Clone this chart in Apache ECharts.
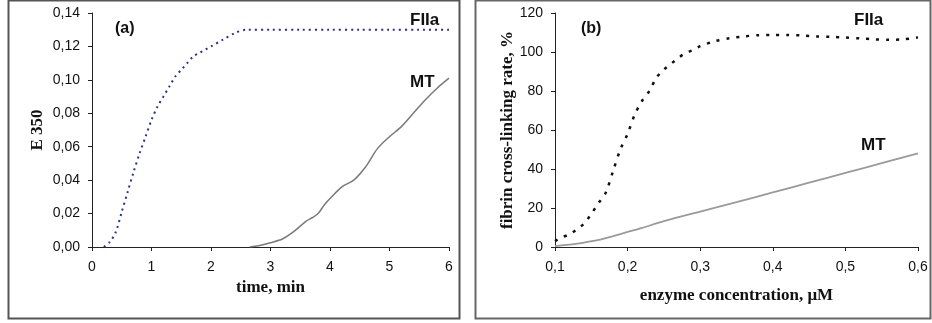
<!DOCTYPE html>
<html>
<head>
<meta charset="utf-8">
<script src="https://cdn.jsdelivr.net/npm/echarts@6/dist/echarts.min.js"></script>
<style>
  html, body { margin: 0; padding: 0; background: #fff; }
  #chart { width: 932px; height: 323px; }
</style>
</head>
<body>
<div id="chart"></div>
<script>
// panel (a): turbidity E350 vs time
var timeFIIa = [0.2, 0.3, 0.4, 0.5, 0.6, 0.7, 0.8, 0.9, 1.0, 1.1, 1.2, 1.3, 1.4, 1.5, 1.6, 1.7, 1.8, 1.9, 2.0, 2.2, 2.4, 2.6, 3.0, 3.5, 4.0, 4.5, 5.0, 5.5, 6.0];
var e350FIIa = [0, 0.003, 0.009, 0.021, 0.033, 0.045, 0.056, 0.066, 0.076, 0.084, 0.090, 0.096, 0.102, 0.106, 0.110, 0.114, 0.116, 0.118, 0.120, 0.124, 0.128, 0.130, 0.130, 0.130, 0.130, 0.130, 0.130, 0.130, 0.130];
var timeMT = [2.65, 2.8, 3.0, 3.2, 3.4, 3.6, 3.7, 3.8, 3.9, 4.0, 4.2, 4.4, 4.6, 4.8, 5.0, 5.2, 5.4, 5.6, 5.8, 6.0];
var e350MT = [0, 0.0008, 0.0026, 0.0048, 0.0095, 0.0155, 0.0175, 0.020, 0.025, 0.029, 0.036, 0.040, 0.048, 0.059, 0.066, 0.072, 0.080, 0.088, 0.095, 0.101];

// panel (b): cross-linking rate vs enzyme concentration
var concFIIa = [0.10, 0.11, 0.12, 0.13, 0.14, 0.15, 0.16, 0.17, 0.18, 0.19, 0.20, 0.21, 0.22, 0.23, 0.24, 0.25, 0.26, 0.27, 0.28, 0.29, 0.30, 0.32, 0.34, 0.36, 0.38, 0.40, 0.42, 0.44, 0.46, 0.48, 0.50, 0.52, 0.54, 0.56, 0.58, 0.60];
var rateFIIa = [3, 5, 6.5, 9, 12, 17, 22.5, 28, 39, 50, 58, 68, 75, 80, 87, 91, 94, 97, 99.5, 101, 103, 105.5, 107, 108, 108.6, 108.7, 108.7, 108.5, 108, 107.8, 107.4, 107, 106.5, 106.3, 106.5, 107.5];
var concMT = [0.10, 0.12, 0.14, 0.16, 0.18, 0.20, 0.22, 0.25, 0.30, 0.35, 0.40, 0.45, 0.50, 0.55, 0.60];
var rateMT = [0.5, 1.2, 2.3, 3.6, 5.6, 7.7, 9.8, 13.3, 18.2, 23, 28, 33, 38, 43, 48];

function zip(xs, ys) {
  return xs.map(function (x, i) { return [x, ys[i]]; });
}
function comma(d) {
  return function (v) { return v.toFixed(d).replace('.', ','); };
}

var sans = 'Liberation Sans, Arial, sans-serif';
var serif = 'Liberation Serif, Times New Roman, serif';

function xAxisOf(idx, min, max, step, name, gap, fmt) {
  return {
    type: 'value', gridIndex: idx, min: min, max: max, interval: step,
    name: name, nameLocation: 'middle', nameGap: gap,
    nameTextStyle: { fontFamily: serif, fontWeight: 'bold', fontSize: 17, color: '#111' },
    axisLine: { lineStyle: { color: '#222', width: 1 } },
    axisTick: { inside: false, length: 4, lineStyle: { color: '#222' } },
    axisLabel: { margin: 13, fontFamily: sans, fontSize: 14, color: '#111', formatter: fmt },
    splitLine: { show: false }
  };
}
function yAxisOf(idx, max, step, name, gap, fmt) {
  return {
    type: 'value', gridIndex: idx, min: 0, max: max, interval: step,
    name: name, nameLocation: 'middle', nameGap: gap, nameRotate: 90,
    nameTextStyle: { fontFamily: serif, fontWeight: 'bold', fontSize: 17, color: '#111' },
    axisLine: { show: true, lineStyle: { color: '#222', width: 1 } },
    axisTick: { show: true, inside: false, length: 4, lineStyle: { color: '#222' } },
    axisLabel: { margin: 12, fontFamily: sans, fontSize: 14, color: '#111', formatter: fmt },
    splitLine: { show: false }
  };
}

function label(x, y, text, size) {
  return {
    type: 'text', left: x, top: y,
    style: { text: text, fontFamily: sans, fontWeight: 'bold', fontSize: size, fill: '#111' }
  };
}

var myChart = echarts.init(document.getElementById('chart'));
myChart.setOption({
  backgroundColor: '#fff',
  animation: false,
  grid: [
    { left: 92, right: 483, top: 13, bottom: 76 },
    { left: 555, right: 14, top: 13, bottom: 76 }
  ],
  xAxis: [
    xAxisOf(0, 0, 6, 1, 'time, min', 30, function (v) { return String(v); }),
    xAxisOf(1, 0.1, 0.6, 0.1, 'enzyme concentration, \u03bcM', 40, comma(1))
  ],
  yAxis: [
    yAxisOf(0, 0.14, 0.02, 'E 350', 46, comma(2)),
    yAxisOf(1, 120, 20, 'fibrin cross-linking rate, %', 39, function (v) { return String(v); })
  ],
  graphic: [
    { type: 'rect', shape: { x: 8.5, y: 0.5, width: 451, height: 318 }, style: { fill: null, stroke: '#555', lineWidth: 2 } },
    { type: 'rect', shape: { x: 475.5, y: 0.5, width: 455, height: 318 }, style: { fill: null, stroke: '#666', lineWidth: 2 } },
    label(115, 21, '(a)', 16),
    label(410, 12, 'FIIa', 17),
    label(410, 74, 'MT', 17),
    label(581, 21, '(b)', 16),
    label(854, 12, 'FIIa', 17),
    label(861, 137, 'MT', 17)
  ],
  series: [
    {
      name: 'FIIa', type: 'line', xAxisIndex: 0, yAxisIndex: 0, showSymbol: false, smooth: 0.3,
      lineStyle: { color: '#2b2b9e', width: 2, type: [2, 4] },
      data: zip(timeFIIa, e350FIIa)
    },
    {
      name: 'MT', type: 'line', xAxisIndex: 0, yAxisIndex: 0, showSymbol: false, smooth: 0.3,
      lineStyle: { color: '#7a7a7a', width: 1.5 },
      data: zip(timeMT, e350MT)
    },
    {
      name: 'FIIa', type: 'line', xAxisIndex: 1, yAxisIndex: 1, showSymbol: false, smooth: 0.3,
      lineStyle: { color: '#111', width: 2.5, type: [3, 7] },
      data: zip(concFIIa, rateFIIa)
    },
    {
      name: 'MT', type: 'line', xAxisIndex: 1, yAxisIndex: 1, showSymbol: false, smooth: 0.3,
      lineStyle: { color: '#9a9a9a', width: 1.8 },
      data: zip(concMT, rateMT)
    }
  ]
});
</script>
</body>
</html>
